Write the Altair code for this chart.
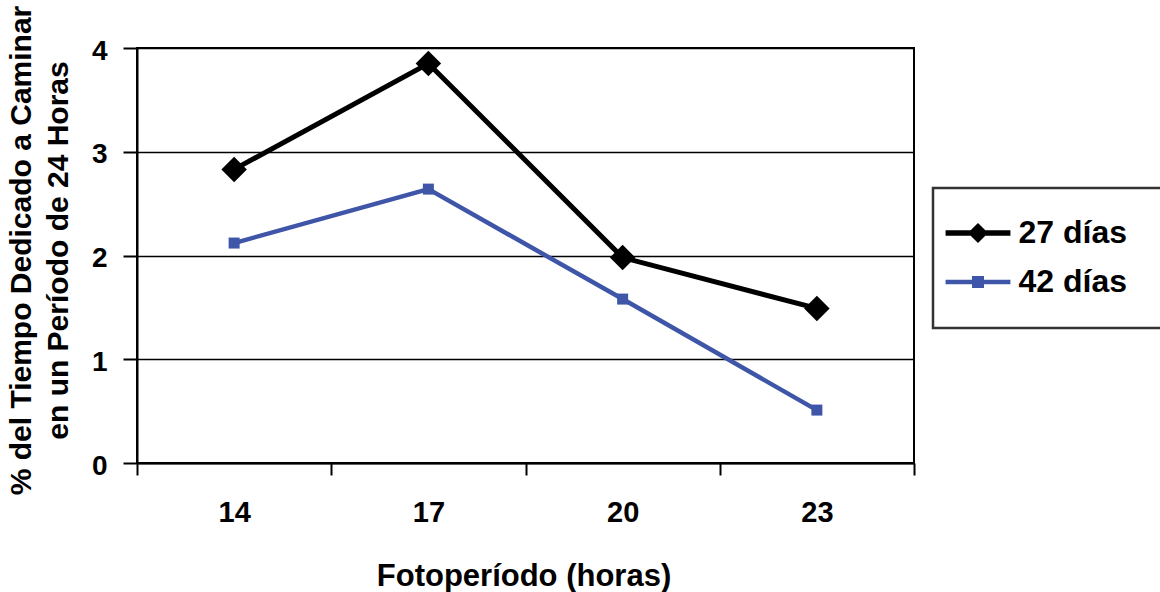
import altair as alt
import pandas as pd

# Photoperiod (hours) on the x axis and the two ages as series
fotoperiodo = [14, 17, 20, 23]
dias_27 = [2.83, 3.85, 1.98, 1.49]
dias_42 = [2.12, 2.64, 1.58, 0.51]
series = ["27 días", "42 días"]

y_ticks = [0, 1, 2, 3, 4]
# category centres plus the boundaries between categories (where ticks go)
x_ticks = [12.5, 14, 15.5, 17, 18.5, 20, 21.5, 23, 24.5]

colores = ["#000000", "#3F56A8"]
FONT = "Liberation Sans, Arial, sans-serif"

# Legend glyphs: a short line with the series marker in its middle
# (the empty sub-paths only reserve the row height of each entry)
simbolo_27 = "M-1.38,-0.117H1.38V0.117H-1.38Z M0,-0.43L0.43,0L0,0.43L-0.43,0Z M0,-1.02Z M0,1.02Z"
simbolo_42 = "M-1.38,-0.094H1.38V0.094H-1.38Z M-0.255,-0.255H0.255V0.255H-0.255Z M0,-1.02Z M0,1.02Z"

df = pd.DataFrame({
    "fotoperiodo": fotoperiodo * 2,
    "serie": [series[0]] * len(fotoperiodo) + [series[1]] * len(fotoperiodo),
    "valor": dias_27 + dias_42,
})

x_enc = alt.X(
    "fotoperiodo:Q",
    scale=alt.Scale(domain=[12.5, 24.5], nice=False, zero=False),
    axis=alt.Axis(
        values=x_ticks,
        title="Fotoperíodo (horas)",
        labelExpr="datum.value % 3 == 2 ? datum.label : ''",
        tickOpacity={"condition": {"test": "datum.value % 3 == 2", "value": 0}, "value": 1},
        labelFlush=False,
        labelOverlap=False,
        grid=False,
        tickSize=12,
        tickWidth=2,
        tickColor="black",
        domainColor="black",
        domainWidth=2,
        labelFont=FONT,
        labelFontSize=29,
        labelFontWeight="bold",
        labelColor="black",
        labelBaseline="alphabetic",
        labelPadding=46,
        titleFont=FONT,
        titleFontSize=31,
        titleFontWeight="bold",
        titleColor="black",
        titleBaseline="alphabetic",
        titleX=386.5,
        titleY=122,
    ),
)

y_enc = alt.Y(
    "valor:Q",
    scale=alt.Scale(domain=[0, 4], nice=False),
    axis=alt.Axis(
        values=y_ticks,
        format="d",
        title=["% del Tiempo Dedicado a Caminar", "en un Período de 24 Horas"],
        grid=True,
        gridColor="black",
        gridWidth=1.5,
        tickSize=14,
        tickWidth=2,
        tickColor="black",
        domainColor="black",
        domainWidth=2,
        labelFont=FONT,
        labelFontSize=28,
        labelFontWeight="bold",
        labelColor="black",
        labelPadding=16,
        labelOffset=3,
        titleFont=FONT,
        titleFontSize=30,
        titleFontWeight="bold",
        titleColor="black",
        titleAngle=270,
        titleAlign="center",
        titleBaseline="top",
        titleLineHeight=37,
        titleX=-131,
        titleY=202,
    ),
)

base = alt.Chart(df).encode(x=x_enc, y=y_enc)

serie27 = base.transform_filter(alt.datum.serie == series[0])
serie42 = base.transform_filter(alt.datum.serie == series[1])

linea27 = serie27.mark_line(color=colores[0], strokeWidth=5)
puntos27 = serie27.mark_point(shape="diamond", size=650, filled=True, color=colores[0], opacity=1)
linea42 = serie42.mark_line(color=colores[1], strokeWidth=4.5)
puntos42 = serie42.mark_point(shape="square", size=121, filled=True, color=colores[1], opacity=1)

leyenda_def = alt.Legend(
    title=None,
    orient="none",
    legendX=796,
    legendY=140,
    padding=21.5,
    rowPadding=0,
    symbolSize=2209,
    symbolOffset=0,
    symbolStrokeWidth=0,
    symbolOpacity=1,
    labelFont=FONT,
    labelFontSize=32,
    labelFontWeight="bold",
    labelColor="black",
    labelOffset=17,
    labelLimit=300,
    labelExpr="datum.label + '\u2800'",
    strokeColor="#333333",
)

leyenda = base.transform_filter("false").mark_point(filled=True, opacity=1).encode(
    color=alt.Color("serie:N", scale=alt.Scale(domain=series, range=colores), legend=leyenda_def),
    shape=alt.Shape("serie:N", scale=alt.Scale(domain=series, range=[simbolo_27, simbolo_42]), legend=leyenda_def),
)

chart = (
    alt.layer(linea27, linea42, puntos27, puntos42, leyenda)
    .properties(
        width=777,
        height=415,
        padding={"left": 137, "top": 48, "right": 246, "bottom": 129},
        autosize=alt.AutoSizeParams(type="none"),
        background="white",
    )
    .configure_view(stroke="black", strokeWidth=2)
    .configure_legend(strokeWidth=2.5)
)

chart.save("out.html", embed_options={"renderer": "svg", "actions": False})
